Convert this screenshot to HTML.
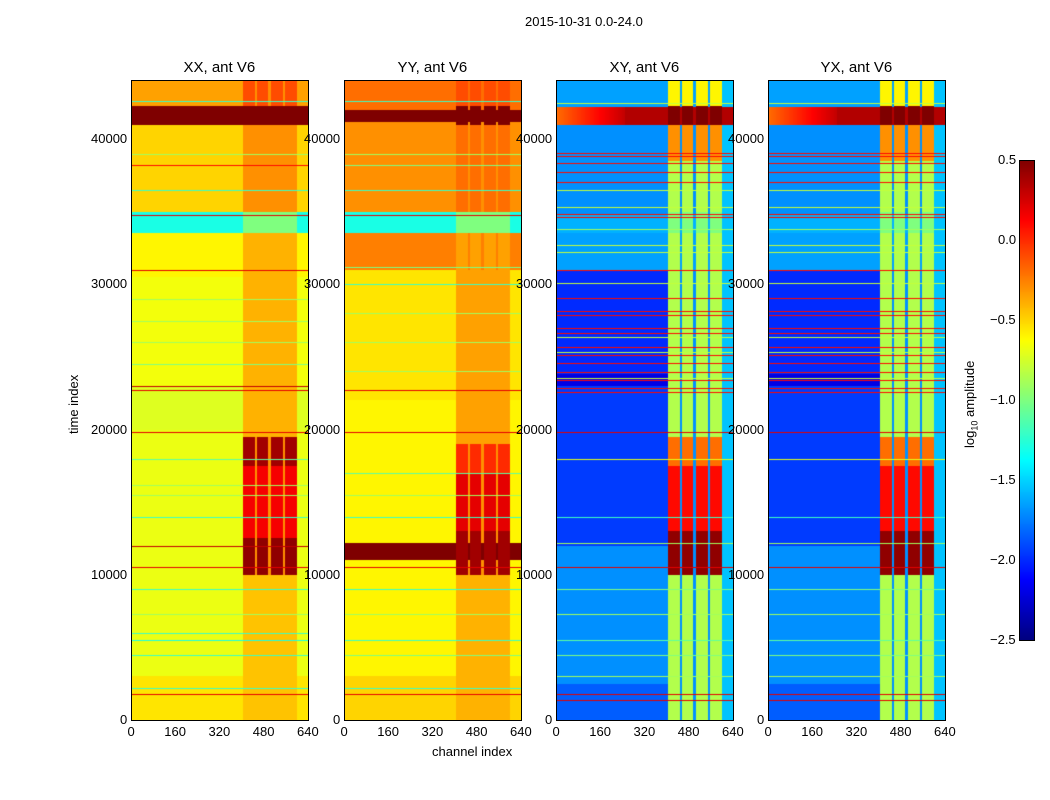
<!DOCTYPE html>
<html><head><meta charset="utf-8"><style>
body{margin:0;background:#fff;font-family:"Liberation Sans",sans-serif;}
#wrap{position:relative;width:1050px;height:800px;overflow:hidden;background:#fff}
.t{position:absolute;font-size:13px;color:#000;white-space:nowrap}
.title{font-size:15px}
canvas{position:absolute}
.frame{position:absolute;border:1px solid #000;box-sizing:border-box}
</style></head><body>
<div id="wrap">
<div class="t" style="left:525px;top:14px">2015-10-31 0.0-24.0</div>
<div class="t" style="left:66px;top:434px;transform:rotate(-90deg);transform-origin:0 0">time index</div>
<div class="t" style="left:432px;top:744px">channel index</div>
<div class="t" style="left:962px;top:448px;transform:rotate(-90deg);transform-origin:0 0">log<sub style="font-size:9px">10</sub> amplitude</div>
</div>
<script>
const TMAX=44064, CMAX=640;
const panelTitles=["XX, ant V6","YY, ant V6","XY, ant V6","YX, ant V6"];
const panelLefts=[131,344,556,768];
const xTicks=[0,160,320,480,640];
const yTicks=[0,10000,20000,30000,40000];
const cbTicks=[0.5,0.0,-0.5,-1.0,-1.5,-2.0,-2.5];
const VMIN=-2.5,VMAX=0.5;
const rowXX=[[0,3000,-0.55],[3000,20000,-0.68],[20000,23000,-0.72],[23000,30500,-0.66],[30500,33500,-0.6],[33500,35000,-1.3],[35000,41000,-0.5],[41000,42300,0.5],[42300,44064,-0.35]];
const rowYY=[[0,3000,-0.5],[3000,11000,-0.6],[11000,12200,0.5],[12200,22000,-0.6],[22000,31000,-0.55],[31000,33500,-0.25],[33500,35000,-1.3],[35000,41200,-0.3],[41200,42000,0.5],[42000,44064,-0.2]];
const rowXY=[[0,2500,-1.85],[2500,12000,-1.7],[12000,23000,-1.95],[23000,23800,-2.2],[23800,31000,-2.0],[31000,33500,-1.65],[33500,34800,-1.6],[34800,41000,-1.7],[41000,42200,0.35],[42200,44064,-1.65]];
const rowYX=[[0,2500,-1.85],[2500,12000,-1.7],[12000,23000,-1.95],[23000,23800,-2.2],[23800,31000,-2.0],[31000,33500,-1.65],[33500,34800,-1.6],[34800,41000,-1.7],[41000,42200,0.35],[42200,44064,-1.65]];
const rfiXX=[[0,10000,-0.45],[10000,12500,0.45],[12500,17500,0.15],[17500,19500,0.4],[19500,33500,-0.4],[33500,35000,-1.0],[35000,41000,-0.3],[41000,42300,0.5],[42300,44064,-0.1]];
const rfiYY=[[0,10000,-0.4],[10000,13000,0.4],[13000,17000,0.2],[17000,19000,0.0],[19000,33500,-0.35],[33500,35000,-1.0],[35000,41000,-0.2],[41000,42300,0.5],[42300,44064,-0.1]];
const rfiXY=[[0,10000,-0.85],[10000,13000,0.45],[13000,17500,0.1],[17500,19500,-0.2],[19500,33500,-0.85],[33500,35000,-1.0],[35000,38500,-0.85],[38500,41000,-0.3],[41000,42300,0.5],[42300,44064,-0.6]];
const rfiYX=[[0,10000,-0.85],[10000,13000,0.45],[13000,17500,0.1],[17500,19500,-0.2],[19500,33500,-0.85],[33500,35000,-1.0],[35000,38500,-0.85],[38500,41000,-0.3],[41000,42300,0.5],[42300,44064,-0.6]];
// RFI column segments [chStart,chEnd,isGap]
const rfiCols=[[405,450,0],[450,456,1],[456,495,0],[495,505,1],[505,550,0],[550,557,1],[557,600,0]];
const gapVal=[-0.3,-0.3,-1.7,-1.7];
const linesXX=[[1800,0.2],[2200,-1.2],[4500,-1.2],[5500,-1.3],[6000,-1.2],[7300,-0.9],[9000,-1.2],[10500,0.2],[12000,0.3],[14000,-1.2],[15500,-0.9],[16200,-0.9],[18000,-1.1],[19800,0.2],[22700,0.2],[23000,0.3],[24500,-1.0],[26000,-0.9],[27500,-0.9],[29000,-0.9],[31000,0.2],[34800,0.2],[36500,-1.2],[38200,0.1],[39000,-0.9],[42600,-1.2]];
const linesYY=[[1800,0.2],[2200,-1.2],[4500,-1.0],[5500,-1.2],[7300,-0.9],[9000,-1.2],[10500,0.2],[14000,-1.2],[15500,-0.9],[17000,-1.1],[19800,0.2],[22700,0.2],[24000,-0.9],[26000,-0.9],[28000,-0.9],[30000,-1.2],[31200,-1.0],[34800,0.2],[36500,-1.2],[38200,-1.0],[39000,-0.9],[42600,-1.2]];
const linesXY=[[1400,0.2],[1800,0.2],[3000,-0.9],[4500,-1.0],[5500,-1.1],[7300,-0.9],[9000,-1.0],[10500,0.2],[12200,-0.9],[14000,-1.2],[18000,-0.7],[19800,0.2],[22606,0.1],[22835,0.1],[23409,0.1],[23524,-0.8],[23983,0.1],[24557,0.1],[25130,0.1],[25360,-0.8],[25704,0.1],[26392,-0.8],[26622,0.1],[26966,0.1],[27884,0.1],[28159,0.1],[29031,0.1],[30064,-0.8],[30982,0.1],[32198,-0.8],[32703,-0.8],[33800,-0.9],[34608,0.1],[34815,0.1],[35343,-0.8],[36490,-0.8],[37018,0.1],[37706,0.1],[38325,0.1],[38830,0.1],[39013,0.1],[42501,-0.8]];
const linesYX=linesXY.slice();
const rowsAll=[rowXX,rowYY,rowXY,rowYX], rfiAll=[rfiXX,rfiYY,rfiXY,rfiYX], linesAll=[linesXX,linesYY,linesXY,linesYX];

const PT=80,PB=720,PW=177,PH=PB-PT;
const yScale=t=>PB-t/TMAX*PH;
const xScale=(c,left)=>left+c/CMAX*PW;
function jet(v){let x=(v-VMIN)/(VMAX-VMIN);x=Math.max(0,Math.min(1,x));
 const f=(a)=>Math.max(0,Math.min(1,1.5-Math.abs(4*x-a)));
 return [f(3)*255|0,f(2)*255|0,f(1)*255|0];}
function bandVal(b,t){for(const r of b){if(t>=r[0]&&t<r[1])return r[2];}return b[b.length-1][2];}
function colSeg(c){for(const s of rfiCols){if(c>=s[0]&&c<s[1])return s;}return null;}
const wrap=document.getElementById('wrap');
function addText(txt,x,y,cls,name,align){const d=document.createElement('div');d.className='t'+(cls?' '+cls:'');d.textContent=txt;
 
 
 wrap.appendChild(d);const w=d.offsetWidth;d.style.left=(align==='r'?x-w:align==='c'?x-w/2:x)+'px';d.style.top=y+'px';return d;}
for(let p=0;p<4;p++){
 const left=panelLefts[p];
 const cv=document.createElement('canvas');cv.width=PW;cv.height=PH;cv.style.left=left+'px';cv.style.top=PT+'px';
 
 
 wrap.appendChild(cv);
 const ctx=cv.getContext('2d');const img=ctx.createImageData(PW,PH);
 const lineRows={};
 for(const l of linesAll[p]){lineRows[Math.round(yScale(l[0])-PT)]=l[1];}
 for(let y=0;y<PH;y++){const t=(PH-y-0.5)/PH*TMAX;
  for(let x=0;x<PW;x++){const c=(x+0.5)/PW*CMAX;let v;
   const s=colSeg(c);const base=bandVal(rowsAll[p],t);
   if(s){const r=bandVal(rfiAll[p],t); v=s[2]?Math.max(base,Math.min(r,gapVal[p])):r;}
   else{v=base;if(p>=2&&c>=600)v=Math.max(base,-1.55);
    if(p>=2&&t>41000&&t<42200&&c<250)v=-0.2+c/250*0.5;}
   if(lineRows[y]!==undefined)v=lineRows[y];
   const col=jet(v);const i=(y*PW+x)*4;img.data[i]=col[0];img.data[i+1]=col[1];img.data[i+2]=col[2];img.data[i+3]=255;}}
 ctx.putImageData(img,0,0);
 const fr=document.createElement('div');fr.className='frame';fr.style.cssText=`left:${left}px;top:${PT}px;width:${PW+1}px;height:${PH+1}px`;
 
 
 wrap.appendChild(fr);
 addText(panelTitles[p],left+PW/2,59,'title','panel-title','c');
 for(const tk of xTicks){addText(String(tk),xScale(tk,left),724,'','x-tick-label','c');}
 for(const tk of yTicks){addText(String(tk),left-4,yScale(tk)-8,'','y-tick-label','r');}
}
const cb=document.createElement('canvas');cb.width=15;cb.height=480;cb.style.left='1019px';cb.style.top='160px';


wrap.appendChild(cb);
const cctx=cb.getContext('2d');
for(let y=0;y<480;y++){const v=VMAX-(y+0.5)/480*(VMAX-VMIN);const c=jet(v);cctx.fillStyle=`rgb(${c[0]},${c[1]},${c[2]})`;cctx.fillRect(0,y,15,1);}
const cbf=document.createElement('div');cbf.className='frame';cbf.style.cssText='left:1019px;top:160px;width:16px;height:481px';


wrap.appendChild(cbf);
for(const tk of cbTicks){const y=160+(VMAX-tk)/(VMAX-VMIN)*480;
 addText((tk<0?'\u2212':'')+Math.abs(tk).toFixed(1),1016,y-8,'','colorbar-tick-label','r');}
</script>
</body></html>
